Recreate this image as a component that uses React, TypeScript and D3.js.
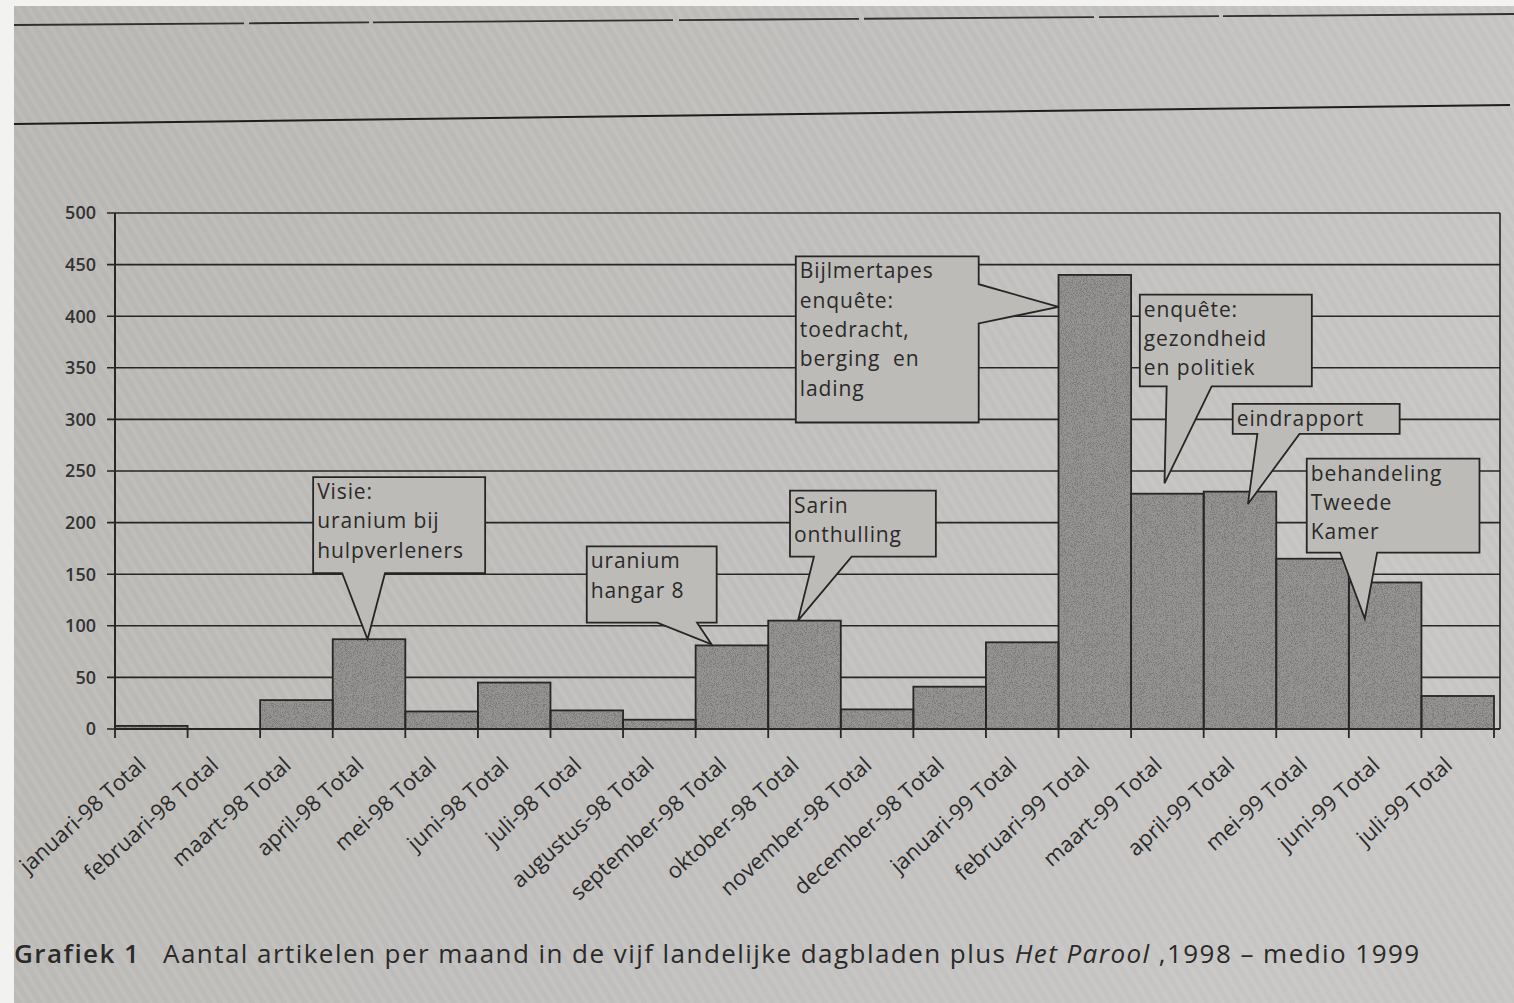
import React, { useRef, useEffect } from 'react';
import * as d3 from 'd3';

// months on the x axis (pivot table labels)
const categories = [
  'januari-98 Total', 'februari-98 Total', 'maart-98 Total', 'april-98 Total',
  'mei-98 Total', 'juni-98 Total', 'juli-98 Total', 'augustus-98 Total',
  'september-98 Total', 'oktober-98 Total', 'november-98 Total', 'december-98 Total',
  'januari-99 Total', 'februari-99 Total', 'maart-99 Total', 'april-99 Total',
  'mei-99 Total', 'juni-99 Total', 'juli-99 Total',
];

// number of articles per month
const articles = [3, 0, 28, 87, 17, 45, 18, 9, 81, 105, 19, 41, 84, 440, 228, 230, 165, 142, 32];

const yTicks = [0, 50, 100, 150, 200, 250, 300, 350, 400, 450, 500];

// callouts: box in (category units, article units), tail base along the box edge, tip at (category units, articles)
interface Callout {
  lines: string[];
  box: [number, number, number, number]; // u0, u1, vTop, vBottom
  side: 'bottom' | 'right';
  base: [number, number];
  tip: [number, number];
}

const callouts: Callout[] = [
  { lines: ['Visie:', 'uranium bij', 'hulpverleners'], box: [2.73, 5.1, 244, 151], side: 'bottom', base: [3.13, 3.72], tip: [3.48, 87] },
  { lines: ['uranium', 'hangar 8'], box: [6.5, 8.29, 177, 103], side: 'bottom', base: [7.47, 8.02], tip: [8.22, 82] },
  { lines: ['Sarin', 'onthulling'], box: [9.3, 11.31, 231, 167], side: 'bottom', base: [9.63, 10.15], tip: [9.41, 105] },
  { lines: ['Bijlmertapes', 'enquête:', 'toedracht,', 'berging  en', 'lading'], box: [9.38, 11.9, 458, 297], side: 'right', base: [431, 393], tip: [13.0, 409] },
  { lines: ['enquête:', 'gezondheid', 'en politiek'], box: [14.12, 16.49, 421, 332], side: 'bottom', base: [14.49, 15.11], tip: [14.46, 238] },
  { lines: ['eindrapport'], box: [15.4, 17.7, 315, 286], side: 'bottom', base: [15.74, 16.32], tip: [15.61, 218] },
  { lines: ['behandeling', 'Tweede', 'Kamer'], box: [16.42, 18.8, 262, 171], side: 'bottom', base: [16.88, 17.39], tip: [17.22, 107] },
];

const PAPER = '#bdbbb7';
const INK = '#262626';
const FONT = '"Open Sans", "Noto Sans", sans-serif';

const App: React.FC = () => {
  const svgRef = useRef<SVGSVGElement>(null);

  useEffect(() => {
    if (!svgRef.current) return;
    const width = 1514;
    const height = 1003;
    const left = 115;
    const right = 1494;
    const frameRight = 1500;
    const base = 729;
    const top = 213;

    const svg = d3.select(svgRef.current);
    svg.selectAll('*').remove();

    const defs = svg.append('defs');
    const grad = defs.append('linearGradient').attr('id', 'paper').attr('x1', 0).attr('x2', 1).attr('y1', 0).attr('y2', 0.3);
    grad.append('stop').attr('offset', '0%').attr('stop-color', '#b8b6b2');
    grad.append('stop').attr('offset', '60%').attr('stop-color', '#bfbebc');
    grad.append('stop').attr('offset', '100%').attr('stop-color', '#c6c5c3');

    const stripes = defs.append('pattern').attr('id', 'stripes').attr('width', 9).attr('height', 9)
      .attr('patternUnits', 'userSpaceOnUse').attr('patternTransform', 'rotate(-32)');
    stripes.append('rect').attr('width', 4).attr('height', 9).attr('fill', '#ffffff').attr('opacity', 0.07);

    // stipple texture for the bars
    const f = defs.append('filter').attr('id', 'speckle').attr('x', 0).attr('y', 0).attr('width', '100%').attr('height', '100%');
    f.append('feTurbulence').attr('type', 'fractalNoise').attr('baseFrequency', 1.1).attr('numOctaves', 3).attr('seed', 4).attr('result', 'noise');
    f.append('feColorMatrix').attr('in', 'noise').attr('type', 'matrix')
      .attr('values', '0 0 0 0 0.2  0 0 0 0 0.2  0 0 0 0 0.2  7 0 0 0 -3.4').attr('result', 'dots');
    f.append('feComposite').attr('in', 'dots').attr('in2', 'SourceGraphic').attr('operator', 'in').attr('result', 'clipped');
    const merge = f.append('feMerge');
    merge.append('feMergeNode').attr('in', 'SourceGraphic');
    merge.append('feMergeNode').attr('in', 'clipped');

    // paper
    svg.append('rect').attr('width', width).attr('height', height).attr('fill', '#f2f2f0');
    svg.append('rect').attr('x', 14).attr('y', 6).attr('width', width - 14).attr('height', height - 6).attr('fill', 'url(#paper)');
    svg.append('rect').attr('x', 14).attr('y', 6).attr('width', width - 14).attr('height', height - 6).attr('fill', 'url(#stripes)');

    // page rules above the chart
    svg.append('line').attr('x1', 14).attr('y1', 25).attr('x2', 1514).attr('y2', 14)
      .attr('stroke', '#303030').attr('stroke-width', 1.8).attr('stroke-dasharray', '230 5 120 4 300 6 180 5');
    svg.append('line').attr('x1', 14).attr('y1', 124).attr('x2', 1510).attr('y2', 105)
      .attr('stroke', '#1e1e1e').attr('stroke-width', 2);

    const x = d3.scaleBand().domain(categories).range([left, right]).padding(0);
    const xu = d3.scaleLinear().domain([0, categories.length]).range([left, right]);
    const y = d3.scaleLinear().domain([0, 500]).range([base, top]);

    const g = svg.append('g').style('font-family', FONT);

    // gridlines + left ticks
    g.selectAll('.grid').data(yTicks).enter().append('line')
      .attr('x1', left - 8).attr('x2', frameRight)
      .attr('y1', d => y(d)).attr('y2', d => y(d))
      .attr('stroke', INK).attr('stroke-width', 1.6);
    g.append('line').attr('x1', frameRight).attr('x2', frameRight).attr('y1', y(500)).attr('y2', base)
      .attr('stroke', INK).attr('stroke-width', 1.6);

    g.selectAll('.ytick').data(yTicks).enter().append('text')
      .attr('x', 96).attr('y', d => y(d)).attr('dy', '0.36em')
      .attr('text-anchor', 'end').attr('font-size', 18).attr('font-weight', 600)
      .attr('fill', '#333').text(d => d);

    // bars
    const bars = g.append('g');
    bars.append('g').attr('filter', 'url(#speckle)')
      .selectAll('rect').data(articles).enter().append('rect')
      .attr('x', (d, i) => x(categories[i]) as number)
      .attr('y', d => y(d))
      .attr('width', x.bandwidth())
      .attr('height', d => base - y(d))
      .attr('fill', '#969492');
    bars.selectAll('.outline').data(articles).enter().append('rect')
      .attr('x', (d, i) => x(categories[i]) as number)
      .attr('y', d => y(d))
      .attr('width', x.bandwidth())
      .attr('height', d => base - y(d))
      .attr('fill', 'none').attr('stroke', INK).attr('stroke-width', 1.8);

    // axes
    g.append('line').attr('x1', left).attr('x2', left).attr('y1', y(500)).attr('y2', base)
      .attr('stroke', INK).attr('stroke-width', 2);
    g.append('line').attr('x1', left).attr('x2', frameRight).attr('y1', base).attr('y2', base)
      .attr('stroke', INK).attr('stroke-width', 2);
    g.selectAll('.xtick').data(d3.range(categories.length + 1)).enter().append('line')
      .attr('x1', d => xu(d)).attr('x2', d => xu(d))
      .attr('y1', base).attr('y2', base + 9)
      .attr('stroke', INK).attr('stroke-width', 1.8);

    g.selectAll('.xlabel').data(categories).enter().append('text')
      .attr('transform', d => `translate(${(x(d) as number) + x.bandwidth() / 2 - 4},${base + 38}) rotate(-42)`)
      .attr('text-anchor', 'end')
      .attr('font-size', 22).attr('fill', '#2b2b2b')
      .text(d => d);

    // callouts
    const cg = g.append('g');
    callouts.forEach(c => {
      const x0 = xu(c.box[0]);
      const x1 = xu(c.box[1]);
      const y0 = y(c.box[2]);
      const y1 = y(c.box[3]);
      const tx = xu(c.tip[0]);
      const ty = y(c.tip[1]);
      const p = d3.path();
      p.moveTo(x0, y0);
      p.lineTo(x1, y0);
      if (c.side === 'right') {
        p.lineTo(x1, y(c.base[0]));
        p.lineTo(tx, ty);
        p.lineTo(x1, y(c.base[1]));
        p.lineTo(x1, y1);
        p.lineTo(x0, y1);
      } else {
        p.lineTo(x1, y1);
        p.lineTo(xu(c.base[1]), y1);
        p.lineTo(tx, ty);
        p.lineTo(xu(c.base[0]), y1);
        p.lineTo(x0, y1);
      }
      p.closePath();
      cg.append('path').attr('d', p.toString())
        .attr('fill', PAPER).attr('stroke', INK).attr('stroke-width', 1.8).attr('stroke-linejoin', 'miter');
      const t = cg.append('text').attr('font-size', 21).attr('letter-spacing', 0.9).attr('fill', '#2a2a2a');
      c.lines.forEach((line, i) => {
        t.append('tspan').attr('x', x0 + 4).attr('y', y0 + 22 + i * 29.3)
          .attr('xml:space', 'preserve').text(line);
      });
    });

    // caption
    const cap = svg.append('text').attr('y', 963).attr('font-size', 26).attr('letter-spacing', 1.45)
      .style('font-family', FONT).attr('fill', '#2a2a2a');
    cap.append('tspan').attr('x', 14).attr('font-weight', 600).text('Grafiek 1');
    cap.append('tspan').attr('x', 163).text('Aantal artikelen per maand in de vijf landelijke dagbladen plus ');
    cap.append('tspan').attr('font-style', 'italic').text('Het Parool');
    cap.append('tspan').text(' ,1998 – medio 1999');
  }, []);

  return (
    <svg
      ref={svgRef}
      width={1514}
      height={1003}
      viewBox="0 0 1514 1003"
      style={{ position: 'absolute', left: 0, top: 0, display: 'block' }}
    />
  );
};

export default App;
